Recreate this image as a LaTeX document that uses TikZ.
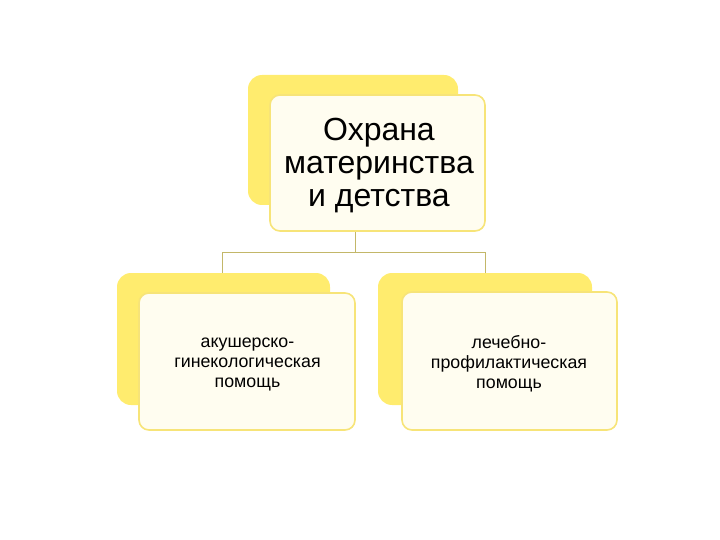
\documentclass[tikz,border=0pt]{standalone}
\usepackage{fontspec}
\setmainfont{Liberation Sans}
\definecolor{backY}{RGB}{255,236,110}
\definecolor{frontB}{RGB}{247,228,120}
\definecolor{frontF}{RGB}{255,253,240}
\definecolor{conn}{RGB}{195,183,105}
\tikzset{
  backbox/.style={fill=backY, draw=none, rounded corners=14pt, inner sep=0pt},
  frontbox/.style={fill=frontF, draw=frontB, line width=1.6pt, rounded corners=10pt, inner sep=0pt},
  lbl/.style={align=center, text=black, inner sep=0pt},
  connline/.style={draw=conn, line width=1pt},
  bigtext/.style={font=\fontsize{32}{33}\selectfont},
  smalltext/.style={font=\fontsize{17.8}{20}\selectfont}
}
\begin{document}
\begin{tikzpicture}[x=1pt,y=-1pt]
\useasboundingbox (0,0) rectangle (720,540);
% top
\node[backbox, minimum width=210pt, minimum height=130pt] (topback) at (353,140) {};
\node[frontbox, minimum width=215pt, minimum height=136pt] (top) at (377.5,163) {};
\node[lbl, bigtext] (toptext) at (379,166) {Охрана\\материнства\\и детства};
% left
\node[backbox, minimum width=213pt, minimum height=132pt] (leftback) at (223.5,339) {};
\node[frontbox, minimum width=216pt, minimum height=137pt] (left) at (247,361.5) {};
\node[lbl, smalltext] (lefttext) at (247.5,364) {акушерско-\\гинекологическая\\помощь};
% right
\node[backbox, minimum width=214pt, minimum height=132pt] (rightback) at (485,339) {};
\node[frontbox, minimum width=215pt, minimum height=138pt] (right) at (509.5,361) {};
\node[lbl, smalltext] (righttext) at (509,364) {лечебно-\\профилактическая\\помощь};
% connectors
\coordinate (hub) at (355,252);
\coordinate (lj) at (222,252);
\coordinate (rj) at (485,252);
\draw[connline] (top.south -| hub) -- (hub);
\draw[connline] (lj) -- (rj);
\draw[connline] (lj) -- (lj |- leftback.north);
\draw[connline] (rj) -- (rj |- rightback.north);
\end{tikzpicture}
\end{document}
